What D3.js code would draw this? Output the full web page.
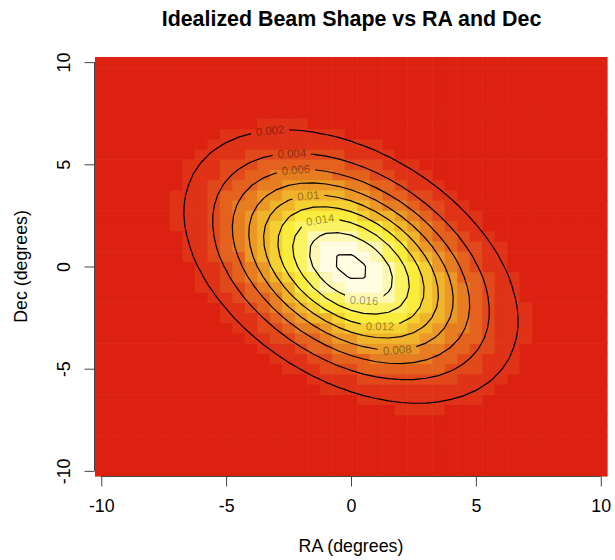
<!DOCTYPE html>
<html>
<head>
<meta charset="utf-8">
<script src="https://cdn.jsdelivr.net/npm/d3@7"></script>
<style>
  body { margin: 0; background: #fff; }
  svg { display: block; }
  text { font-family: "Liberation Sans", Arial, Helvetica, sans-serif; }
</style>
</head>
<body>
<svg id="chart" width="615" height="560"></svg>
<script>
// ---- Beam model (idealized elliptical Gaussian) ----
const beamCenter = [0, 0];          // RA, Dec of beam centre (degrees)
const beamSigma = [3.17, 3.17];     // widths in RA, Dec (degrees)
const beamRho = -0.4;               // RA/Dec correlation (tilt)
const beamPeak = 0.0184;            // response at the centre

// ---- Sampling grid (degrees) ----
const gridStep = 0.5;
const raGrid = d3.range(41).map(i => -10 + i * gridStep);
const decGrid = d3.range(41).map(j => -10 + j * gridStep);

// ---- Contour levels and which of them carry a label ----
const contourLevels = [0.002, 0.004, 0.006, 0.008, 0.01, 0.012, 0.014, 0.016, 0.018];
const labelledLevels = [0.002, 0.004, 0.006, 0.01, 0.014, 0.016, 0.012, 0.008];

// ---- Axis ticks ----
const raTicks = [-10, -5, 0, 5, 10];
const decTicks = [-10, -5, 0, 5, 10];

// ---- Colour ramp (12 heat colours, low to high) ----
const heatColors = [
  "#dd2111", "#df3216", "#e1481a", "#e4621d", "#e77d21", "#eb9826",
  "#f0b42b", "#f5d032", "#f9ec3a", "#fbf264", "#fdf8b4", "#fffce2"
];

function beam(ra, dec) {
  const zx = (ra - beamCenter[0]) / beamSigma[0];
  const zy = (dec - beamCenter[1]) / beamSigma[1];
  const q = (zx * zx + zy * zy - 2 * beamRho * zx * zy) / (1 - beamRho * beamRho);
  return beamPeak * Math.exp(-q / 2);
}

// values laid out row by row, row 0 = lowest Dec
const nx = raGrid.length, ny = decGrid.length;
const values = [];
for (let j = 0; j < ny; j++) for (let i = 0; i < nx; i++) values.push(beam(raGrid[i], decGrid[j]));

const svg = d3.select("#chart");
const half = gridStep / 2;
const x = d3.scaleLinear().domain([raGrid[0] - half, raGrid[nx - 1] + half]).range([95, 607]);
const y = d3.scaleLinear().domain([decGrid[0] - half, decGrid[ny - 1] + half]).range([476, 57]);

// ---- Image of the beam ----
const zExt = d3.extent(values);
const colorIndex = v => Math.max(0, Math.min(heatColors.length - 1,
  Math.floor((v - zExt[0]) / (zExt[1] - zExt[0]) * heatColors.length)));

const cells = [];
for (let j = 0; j < ny; j++) for (let i = 0; i < nx; i++)
  cells.push({ ra: raGrid[i], dec: decGrid[j], v: values[j * nx + i] });

svg.append("g").selectAll("rect").data(cells).join("rect")
  .attr("x", d => x(d.ra - half))
  .attr("y", d => y(d.dec + half))
  .attr("width", d => x(d.ra + half) - x(d.ra - half) + 0.6)
  .attr("height", d => y(d.dec - half) - y(d.dec + half) + 0.6)
  .attr("fill", d => heatColors[colorIndex(d.v)]);

// ---- Contours ----
const contours = d3.contours().size([nx, ny]).thresholds(contourLevels)(values);
const toRA = cx => raGrid[0] + (cx - 0.5) * gridStep;
const toDec = cy => decGrid[0] + (cy - 0.5) * gridStep;
const proj = d3.geoTransform({
  point(px, py) { this.stream.point(x(toRA(px)), y(toDec(py))); }
});
const path = d3.geoPath(proj);

// label placement along each contour: RA of the label and the side of the ellipse
const labelLayout = {
  0.002: { ra: -3.24, side: "top" },
  0.004: { ra: -2.37, side: "top" },
  0.006: { ra: -2.21, side: "top" },
  0.01:  { ra: -1.71, side: "top" },
  0.014: { ra: -1.24, side: "top" },
  0.016: { ra: 0.52,  side: "bottom" },
  0.012: { ra: 1.16,  side: "bottom" },
  0.008: { ra: 1.85,  side: "bottom" }
};
const labelFont = 11.4;

function pixelRings(c) {
  const rings = [];
  c.coordinates.forEach(poly => poly.forEach(ring =>
    rings.push(ring.map(p => [x(toRA(p[0])), y(toDec(p[1]))]))));
  return rings;
}
function crossings(rings, px) {
  const out = [];
  rings.forEach(r => {
    for (let k = 0; k < r.length - 1; k++) {
      const a = r[k], b = r[k + 1];
      if (a[0] === b[0]) continue;
      if ((a[0] - px) * (b[0] - px) <= 0) {
        const t = (px - a[0]) / (b[0] - a[0]);
        out.push(a[1] + t * (b[1] - a[1]));
      }
    }
  });
  return out;
}

const labels = [];
labelledLevels.forEach(level => {
  const c = contours.find(d => Math.abs(d.value - level) < 1e-9);
  const lay = labelLayout[level];
  const rings = pixelRings(c);
  const px = x(lay.ra);
  const pick = arr => lay.side === "top" ? d3.min(arr) : d3.max(arr);
  const py = pick(crossings(rings, px));
  const near = (arr) => arr.reduce((best, v) => Math.abs(v - py) < Math.abs(best - py) ? v : best, arr[0]);
  const d = 9;
  const yl = near(crossings(rings, px - d));
  const yr = near(crossings(rings, px + d));
  const angle = Math.atan2(yr - yl, 2 * d) * 180 / Math.PI;
  labels.push({ level, px, py, angle, text: String(level) });
});

// measure label widths for the gaps in the lines
const measure = svg.append("text").attr("font-size", labelFont).attr("opacity", 0);
labels.forEach(l => { measure.text(l.text); l.w = measure.node().getComputedTextLength(); });
measure.remove();

const defs = svg.append("defs");
const mask = defs.append("mask").attr("id", "label-gaps")
  .attr("maskUnits", "userSpaceOnUse")
  .attr("x", 0).attr("y", 0).attr("width", 615).attr("height", 560);
mask.append("rect").attr("width", 615).attr("height", 560).attr("fill", "#fff");
mask.selectAll("rect.gap").data(labels).join("rect")
  .attr("class", "gap")
  .attr("x", l => -l.w / 2 - 5).attr("y", -7)
  .attr("width", l => l.w + 10).attr("height", 14)
  .attr("fill", "#000")
  .attr("transform", l => `translate(${l.px},${l.py}) rotate(${l.angle})`);

svg.append("g").attr("mask", "url(#label-gaps)")
  .selectAll("path").data(contours).join("path")
  .attr("d", path)
  .attr("fill", "none")
  .attr("stroke", "#000")
  .attr("stroke-width", 1.2)
  .attr("stroke-linejoin", "round");

svg.append("g").selectAll("text").data(labels).join("text")
  .attr("transform", l => `translate(${l.px},${l.py}) rotate(${l.angle})`)
  .attr("text-anchor", "middle")
  .attr("dy", "0.36em")
  .attr("font-size", labelFont)
  .attr("fill", "#000")
  .attr("fill-opacity", 0.42)
  .text(l => l.text);

// ---- Axes ----
const axisFont = 17.8;
const plainNumber = d => String(d);
const xAxis = svg.append("g").attr("transform", "translate(0,476.5)")
  .call(d3.axisBottom(x).tickValues(raTicks).tickFormat(plainNumber).tickSize(10).tickPadding(13));
xAxis.select(".domain").attr("d", `M${x(raTicks[0])},0H${x(raTicks[raTicks.length - 1])}`);

const yAxis = svg.append("g").attr("transform", "translate(94.5,0)")
  .call(d3.axisLeft(y).tickValues(decTicks).tickFormat(plainNumber).tickSize(10));
yAxis.select(".domain").attr("d", `M0,${y(decTicks[0])}V${y(decTicks[decTicks.length - 1])}`);
yAxis.selectAll(".tick text")
  .attr("x", null).attr("dy", null)
  .attr("text-anchor", "middle")
  .attr("transform", "translate(-24.5,0) rotate(-90)");

[xAxis, yAxis].forEach(g => {
  g.selectAll(".domain, .tick line").attr("stroke", "#444").attr("stroke-width", 1);
  g.selectAll(".tick text").attr("font-size", axisFont).attr("fill", "#000")
    .attr("font-family", "\"Liberation Sans\", Arial, Helvetica, sans-serif");
});

// ---- Titles ----
svg.append("text").attr("x", 351.5).attr("y", 25.5)
  .attr("text-anchor", "middle").attr("font-size", 21.4).attr("font-weight", "bold")
  .text("Idealized Beam Shape vs RA and Dec");

svg.append("text").attr("x", 351).attr("y", 552)
  .attr("text-anchor", "middle").attr("font-size", axisFont)
  .text("RA (degrees)");

svg.append("text").attr("transform", "translate(26.5,266.5) rotate(-90)")
  .attr("text-anchor", "middle").attr("font-size", axisFont)
  .text("Dec (degrees)");
</script>
</body>
</html>
